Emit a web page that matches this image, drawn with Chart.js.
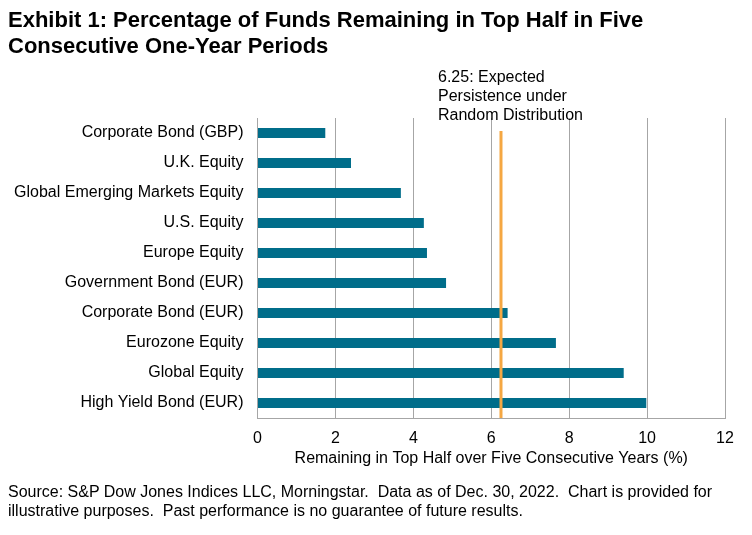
<!DOCTYPE html>
<html>
<head>
<meta charset="utf-8">
<script src="https://cdn.jsdelivr.net/npm/chart.js@4"></script>
<style>
  body { margin: 0; background: #fff; font-family: "Liberation Sans", Arial, sans-serif; }
  #wrap { position: relative; width: 752px; height: 535px; overflow: hidden; }
  #titulo { position: absolute; left: 8px; top: 7px; white-space: nowrap;
    font-weight: bold; font-size: 22px; line-height: 26px; color: #000; }
  #nota { position: absolute; left: 8px; top: 482px; font-size: 16px; line-height: 19px; color: #000; white-space: nowrap; }
  #grafico { position: absolute; left: 0; top: 0; }
</style>
</head>
<body>
<div id="wrap">
  <canvas id="grafico" width="752" height="535"></canvas>
  <div id="titulo">Exhibit 1: Percentage of Funds Remaining in Top Half in Five<br>Consecutive One-Year Periods</div>
  <div id="nota">Source: S&amp;P Dow Jones Indices LLC, Morningstar.&nbsp; Data as of Dec. 30, 2022.&nbsp; Chart is provided for<br>illustrative purposes.&nbsp; Past performance is no guarantee of future results.</div>
</div>
<script>
const categorias = ['Corporate Bond (GBP)', 'U.K. Equity', 'Global Emerging Markets Equity', 'U.S. Equity',
  'Europe Equity', 'Government Bond (EUR)', 'Corporate Bond (EUR)', 'Eurozone Equity', 'Global Equity', 'High Yield Bond (EUR)'];
const valores = [1.74, 2.40, 3.68, 4.27, 4.35, 4.84, 6.42, 7.66, 9.40, 9.98];
const esperado = 6.25;
const textoEsperado = ['6.25: Expected', 'Persistence under', 'Random Distribution'];
const ticksX = [0, 2, 4, 6, 8, 10, 12];

const fuente = '"Liberation Sans", Arial, sans-serif';

// linea vertical de la persistencia esperada
const lineaEsperada = {
  id: 'lineaEsperada',
  afterDatasetsDraw(chart) {
    const ctx = chart.ctx;
    const x = chart.scales.x.getPixelForValue(esperado);
    const area = chart.chartArea;
    ctx.save();
    ctx.strokeStyle = '#F5A742';
    ctx.lineWidth = 3;
    ctx.beginPath();
    ctx.moveTo(x, area.top + 13);
    ctx.lineTo(x, area.bottom);
    ctx.stroke();
    ctx.fillStyle = '#000';
    ctx.font = '16px ' + fuente;
    ctx.textBaseline = 'middle';
    textoEsperado.forEach((t, i) => ctx.fillText(t, x - 63, area.top - 40 + i * 19));
    ctx.restore();
  }
};

new Chart(document.getElementById('grafico'), {
  type: 'bar',
  data: {
    labels: categorias,
    datasets: [{
      data: valores,
      backgroundColor: '#006D8A',
      barPercentage: 0.34,
      categoryPercentage: 1
    }]
  },
  options: {
    indexAxis: 'y',
    responsive: false,
    animation: false,
    layout: { padding: { top: 118, right: 27, bottom: 57, left: 0 } },
    plugins: { legend: { display: false }, tooltip: { enabled: false } },
    scales: {
      x: {
        min: 0, max: 12,
        afterBuildTicks: s => { s.ticks = ticksX.map(v => ({ value: v })); },
        afterFit: s => { s.height = 60; },
        grid: { color: '#A6A6A6', lineWidth: 1, drawTicks: false },
        border: { color: '#A6A6A6' },
        ticks: { color: '#000', padding: 11, font: { size: 16, family: fuente } },
        title: { display: true, text: 'Remaining in Top Half over Five Consecutive Years (%)', color: '#000',
          padding: { top: 0, bottom: 10 }, font: { size: 16, family: fuente } }
      },
      y: {
        afterFit: s => { s.width = 257.5; },
        grid: { display: false, drawTicks: false },
        border: { color: '#A6A6A6' },
        ticks: { color: '#000', padding: 14, font: { size: 16, family: fuente } }
      }
    }
  },
  plugins: [lineaEsperada]
});
</script>
</body>
</html>
